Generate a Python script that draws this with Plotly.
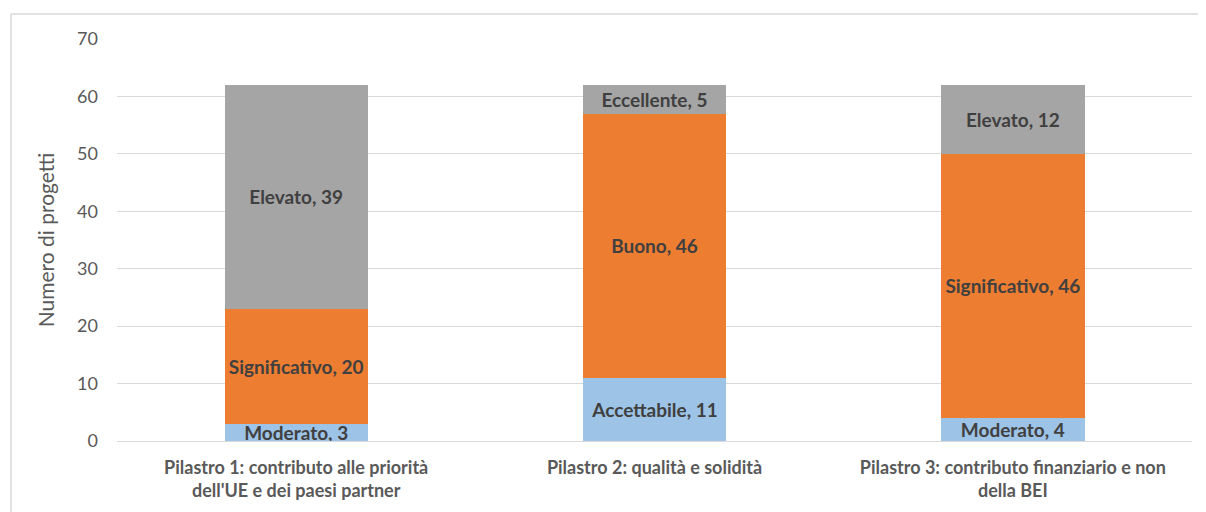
import plotly.graph_objects as go

categories = [
    "Pilastro 1: contributo alle priorità<br>dell'UE e dei paesi partner",
    "Pilastro 2: qualità e solidità",
    "Pilastro 3: contributo finanziario e non<br>della BEI",
]
bottom_values = [3, 11, 4]
bottom_labels = ["Moderato", "Accettabile", "Moderato"]
middle_values = [20, 46, 46]
middle_labels = ["Significativo", "Buono", "Significativo"]
top_values = [39, 5, 12]
top_labels = ["Elevato", "Eccellente", "Elevato"]
y_ticks = [0, 10, 20, 30, 40, 50, 60, 70]

FONT = "Lato"
series = [
    (bottom_values, bottom_labels, "#9DC3E6"),
    (middle_values, middle_labels, "#ED7D31"),
    (top_values, top_labels, "#A5A5A5"),
]

fig = go.Figure()
for vals, labs, col in series:
    fig.add_trace(go.Bar(
        x=categories, y=vals, customdata=labs,
        marker=dict(color=col, line=dict(width=0)),
        texttemplate="<b>%{customdata}, %{y}</b>",
        textposition="inside", insidetextanchor="middle", textangle=0,
        textfont=dict(family=FONT, size=19, color="#404040"),
        constraintext="none", hoverinfo="skip", showlegend=False,
    ))

frame_style = dict(color="#D9D9D9", width=1.5)
fig.update_layout(
    barmode="stack", bargap=0.6,
    width=1206, height=512,
    margin=dict(l=109, r=22, t=31, b=79),
    paper_bgcolor="white", plot_bgcolor="white",
    uniformtext=dict(minsize=19, mode="show"),
    font=dict(family=FONT, color="#595959"),
    xaxis=dict(
        tickfont=dict(family=FONT, size=18, color="#595959", weight="bold"),
        showline=True, linecolor="#D9D9D9", linewidth=1,
        ticks="", ticklabelstandoff=10,
    ),
    yaxis=dict(
        range=[0, 70], tickvals=y_ticks,
        tickfont=dict(family=FONT, size=18, color="#595959"),
        gridcolor="#D9D9D9", gridwidth=1, zeroline=False,
        ticks="", ticklabelstandoff=18,
        title=dict(text="Numero di progetti", font=dict(family=FONT, size=21, color="#595959"), standoff=16),
    ),
    shapes=[
        dict(type="line", xref="paper", yref="paper",
             x0=-0.0986, x1=1.03, y0=1.0622, y1=1.0622, line=frame_style, layer="below"),
        dict(type="line", xref="paper", yref="paper",
             x0=-0.0986, x1=-0.0986, y0=-0.3, y1=1.0622, line=frame_style, layer="below"),
    ],
)

fig.write_html("out.html")
